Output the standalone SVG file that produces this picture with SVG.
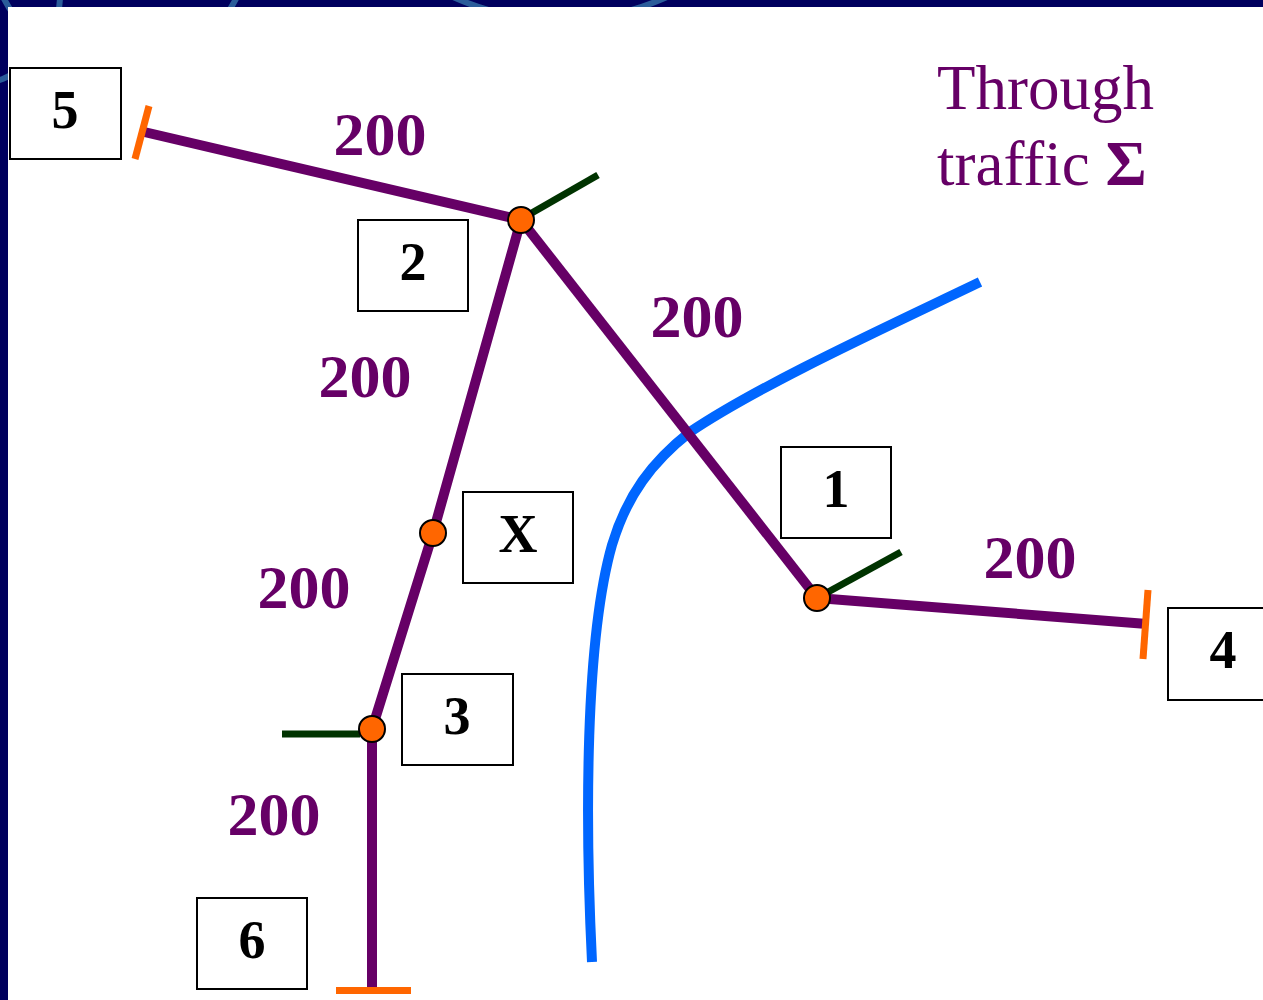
<svg xmlns="http://www.w3.org/2000/svg" width="1263" height="1000" viewBox="0 0 1263 1000">
<style>
.box{fill:#fff;stroke:#000;stroke-width:2}
.lbl{font-family:"Liberation Serif",serif;font-weight:bold;font-size:54px;fill:#000;text-anchor:middle}
.num{font-family:"Liberation Serif",serif;font-weight:bold;font-size:62px;fill:#660066;text-anchor:middle}
.road{stroke:#660066;stroke-width:10;fill:none;stroke-linecap:butt}
.stub{stroke:#003300;stroke-width:7;fill:none}
.end{stroke:#ff6600;stroke-width:7;fill:none}
.jn{fill:#ff6600;stroke:#000;stroke-width:2}
</style>
<defs>
<clipPath id="border"><path d="M0,0H1263V7H8V1000H0Z"/></clipPath>
</defs>
<g id="background">
<rect width="1263" height="1000" fill="#00005e"/>
<g clip-path="url(#border)" fill="none" stroke="#2a5c9a" stroke-width="6">
<circle cx="120" cy="-60" r="130"/>
<circle cx="560" cy="-240" r="260"/>
<circle cx="-30" cy="-5" r="90"/>
</g>
<rect x="8" y="7" width="1255" height="993" fill="#fff"/>
</g>
<g id="through-traffic">
<path d="M592,962 C585,820 585,640 612,545 C627,495 652,462 690,432 C760,385 880,330 980,282" fill="none" stroke="#0066ff" stroke-width="10"/>
<text x="937" y="109" font-family="Liberation Serif,serif" font-size="63" fill="#660066">Through</text>
<text x="937" y="185" font-family="Liberation Serif,serif" font-size="63" fill="#660066">traffic <tspan font-weight="bold">Σ</tspan></text>
</g>
<g id="connectors">
<path class="road" d="M140,131 L521,220"/>
<path class="road" d="M521,220 L817,598"/>
<path class="road" d="M521,220 L433,533 L372,729 L372,988"/>
<path class="road" d="M817,598 L1147,624"/>
<path class="end" d="M149,106 L135,159"/>
<path class="end" d="M1148,590 L1143,659"/>
<path class="end" d="M336,990.5 L411,990.5"/>
<path class="stub" d="M523,218 L598,175"/>
<path class="stub" d="M819,597 L901,552"/>
<path class="stub" d="M282,734 L360,734"/>
<text class="num" x="380" y="155">200</text>
<text class="num" x="697" y="337">200</text>
<text class="num" x="365" y="397">200</text>
<text class="num" x="304" y="608">200</text>
<text class="num" x="274" y="835">200</text>
<text class="num" x="1030" y="578">200</text>
</g>
<g id="junction-2"><circle class="jn" cx="521" cy="220" r="13"/></g>
<g id="junction-x"><circle class="jn" cx="433" cy="533" r="13"/></g>
<g id="junction-3"><circle class="jn" cx="372" cy="729" r="13"/></g>
<g id="junction-1"><circle class="jn" cx="817" cy="598" r="13"/></g>
<g id="node-5"><rect class="box" x="10" y="68" width="111" height="91"/><text class="lbl" x="65" y="128">5</text></g>
<g id="node-2"><rect class="box" x="358" y="220" width="110" height="91"/><text class="lbl" x="413" y="280">2</text></g>
<g id="node-x"><rect class="box" x="463" y="492" width="110" height="91"/><text class="lbl" x="518" y="552">X</text></g>
<g id="node-1"><rect class="box" x="781" y="447" width="110" height="91"/><text class="lbl" x="836" y="507">1</text></g>
<g id="node-4"><rect class="box" x="1168" y="608" width="110" height="92"/><text class="lbl" x="1223" y="668">4</text></g>
<g id="node-3"><rect class="box" x="402" y="674" width="111" height="91"/><text class="lbl" x="457" y="734">3</text></g>
<g id="node-6"><rect class="box" x="197" y="898" width="110" height="91"/><text class="lbl" x="252" y="958">6</text></g>
</svg>
